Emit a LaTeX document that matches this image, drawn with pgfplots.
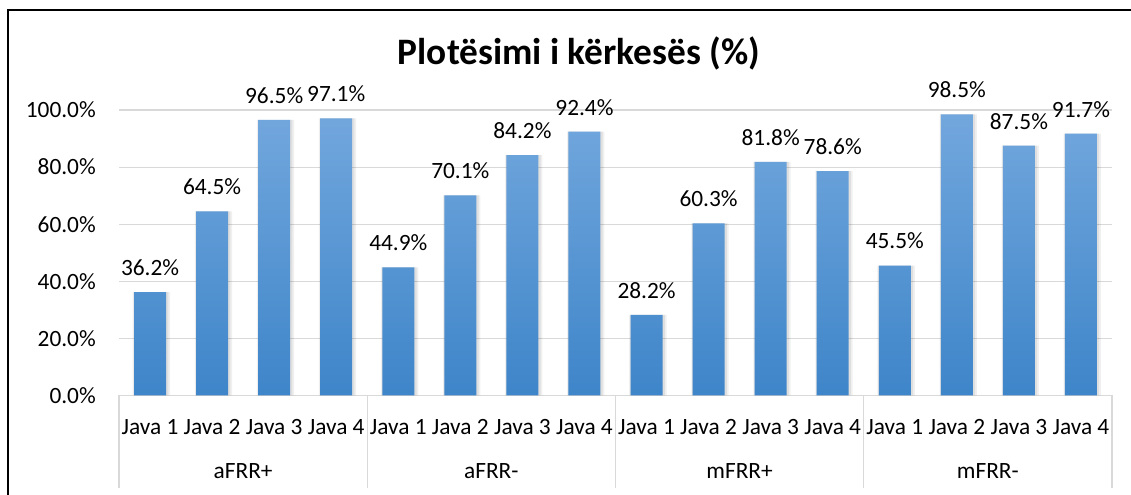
\documentclass[border=0pt]{standalone}
\usepackage{pgfplots}
\pgfplotsset{compat=1.18}
\usepackage{fontspec}
\setmainfont{Carlito}
\definecolor{gridc}{RGB}{217,217,217}
\definecolor{bartop}{RGB}{114,167,221}
\definecolor{barbot}{RGB}{62,133,201}
\begin{document}
\begin{tikzpicture}
\useasboundingbox (0,0) rectangle (848.25pt,371.25pt);
\fill[white] (0,0) rectangle (848.25pt,371.25pt);
\draw[line width=1.8pt] (6pt,0) -- (6pt,363.75pt) -- (860pt,363.75pt);
\node[anchor=base,font=\fontsize{28}{31}\selectfont\bfseries] at (434.25pt,322.5pt) {Plotësimi i kërkesës (\%)};
\begin{axis}[
  at={(89.25pt,74.625pt)}, anchor=south west,
  scale only axis, width=744.75pt, height=214.125pt,
  clip=false,
  ymin=0, ymax=100,
  xmin=-0.5, xmax=15.5,
  ytick={0,20,40,60,80,100},
  yticklabels={0.0\%,20.0\%,40.0\%,60.0\%,80.0\%,100.0\%},
  xtick={0,...,15},
  xticklabels={Java 1,Java 2,Java 3,Java 4,Java 1,Java 2,Java 3,Java 4,Java 1,Java 2,Java 3,Java 4,Java 1,Java 2,Java 3,Java 4},
  ymajorgrids, grid style={draw=gridc, line width=0.8pt},
  axis line style={draw=none},
  major tick length=0pt,
  tick label style={font=\fontsize{17.5}{20}\selectfont},
  yticklabel style={inner sep=0pt, anchor=east, xshift=-17.25pt},
  xticklabel style={inner sep=0pt, anchor=base, yshift=-28.9pt},
  /pgf/number format/assume math mode=true,
  ybar,
]
\addplot[ybar, bar width=28pt, bar shift=1pt, fill=black, fill opacity=0.06, draw=none] coordinates {
 (0,36.2) (1,64.5) (2,96.5) (3,97.1) (4,44.9) (5,70.1) (6,84.2) (7,92.4)
 (8,28.2) (9,60.3) (10,81.8) (11,78.6) (12,45.5) (13,98.5) (14,87.5) (15,91.7)};
\addplot[ybar, bar width=26pt, bar shift=0.7pt, fill=black, fill opacity=0.07, draw=none] coordinates {
 (0,36.2) (1,64.5) (2,96.5) (3,97.1) (4,44.9) (5,70.1) (6,84.2) (7,92.4)
 (8,28.2) (9,60.3) (10,81.8) (11,78.6) (12,45.5) (13,98.5) (14,87.5) (15,91.7)};
\addplot[ybar, bar width=24pt, bar shift=0pt, draw=none, top color=bartop, bottom color=barbot,
  nodes near coords={\pgfmathprintnumber[fixed,precision=1,zerofill]{\pgfplotspointmeta}\%},
  nodes near coords style={font=\fontsize{17.5}{20}\selectfont, text=black, inner sep=0pt, anchor=base, yshift=12.5pt}] coordinates {
 (0,36.2) (1,64.5) (2,96.5) (3,97.1) (4,44.9) (5,70.1) (6,84.2) (7,92.4)
 (8,28.2) (9,60.3) (10,81.8) (11,78.6) (12,45.5) (13,98.5) (14,87.5) (15,91.7)};
\pgfplotsinvokeforeach{-0.5,3.5,7.5,11.5,15.5}{
  \draw[gridc, line width=0.8pt] (axis cs:#1,0) -- ++(0pt,-69.4pt);
}
\node[anchor=base, inner sep=0pt, font=\fontsize{17.5}{20}\selectfont] at (axis cs:1.5,0) [yshift=-62.6pt] {aFRR+};
\node[anchor=base, inner sep=0pt, font=\fontsize{17.5}{20}\selectfont] at (axis cs:5.5,0) [yshift=-62.6pt] {aFRR-};
\node[anchor=base, inner sep=0pt, font=\fontsize{17.5}{20}\selectfont] at (axis cs:9.5,0) [yshift=-62.6pt] {mFRR+};
\node[anchor=base, inner sep=0pt, font=\fontsize{17.5}{20}\selectfont] at (axis cs:13.5,0) [yshift=-62.6pt] {mFRR-};
\end{axis}
\end{tikzpicture}
\end{document}
